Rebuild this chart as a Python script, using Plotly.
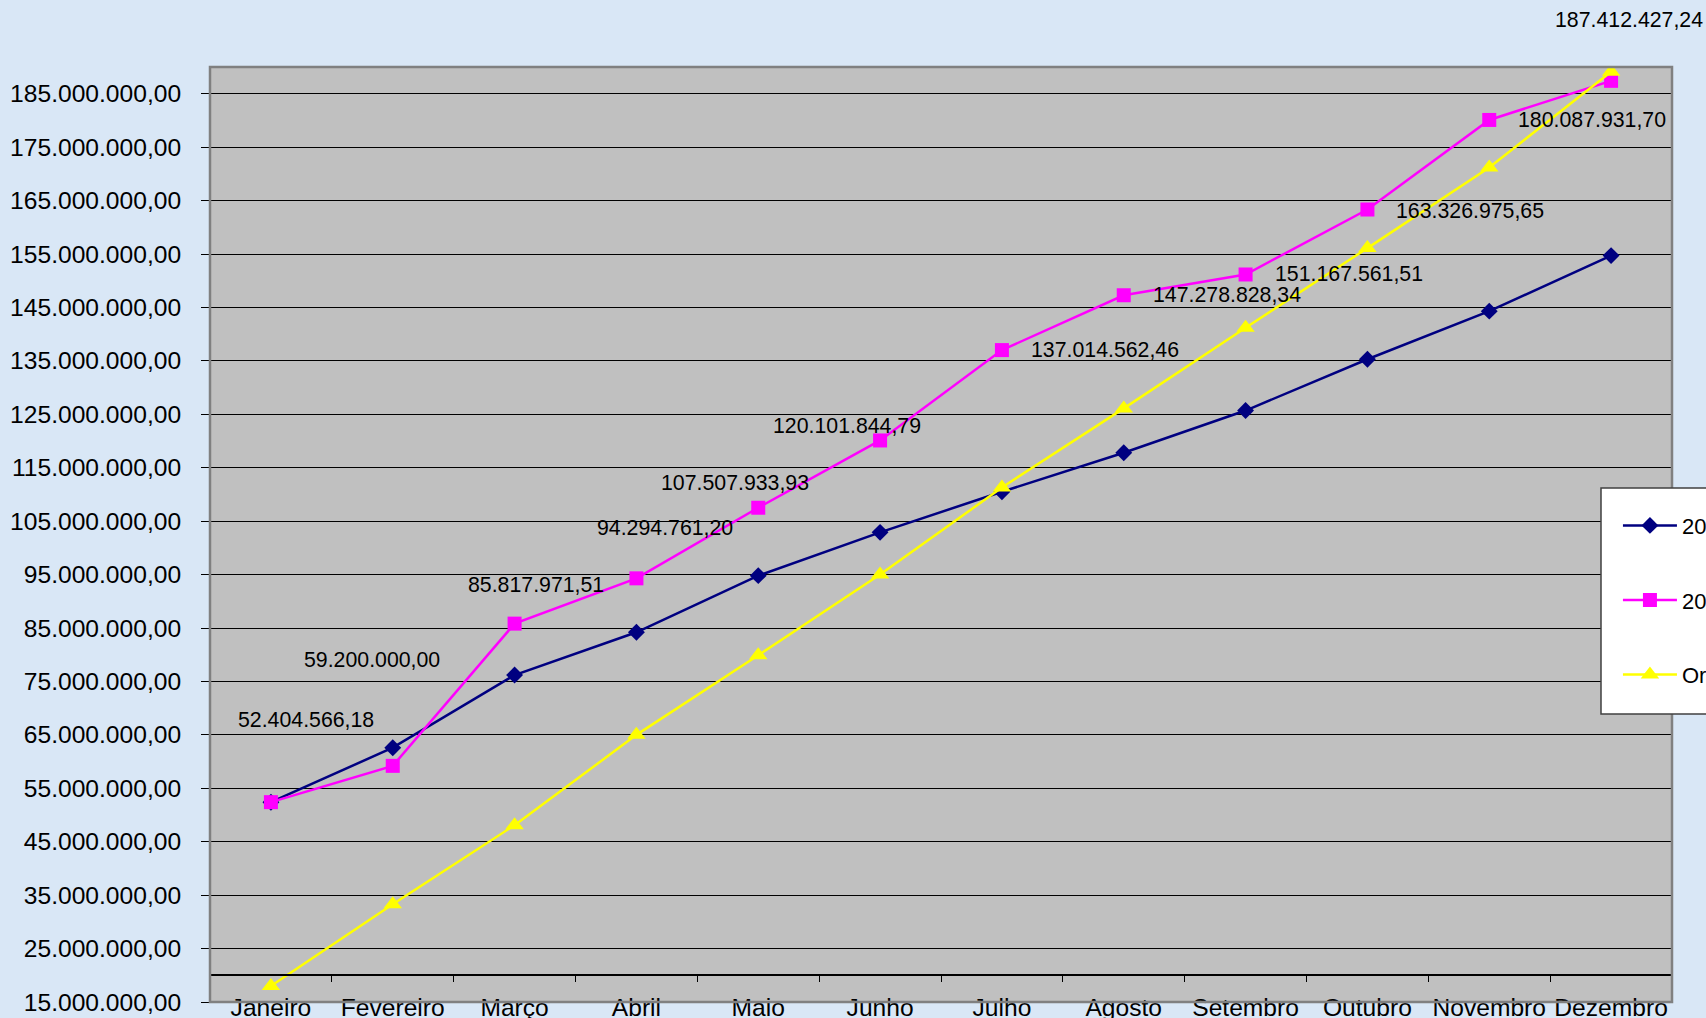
import plotly.graph_objects as go

months = ["Janeiro", "Fevereiro", "Março", "Abril", "Maio", "Junho", "Julho",
          "Agosto", "Setembro", "Outubro", "Novembro", "Dezembro"]

serie_a_name = "2009"
serie_a = [52.4e6, 62.6e6, 76.2e6, 84.2e6, 94.8e6, 102.9e6, 110.5e6,
           117.8e6, 125.7e6, 135.3e6, 144.3e6, 154.7e6]

serie_b_name = "2010"
serie_b = [52404566.18, 59200000.00, 85817971.51, 94294761.20, 107507933.93,
           120101844.79, 137014562.46, 147278828.34, 151167561.51,
           163326975.65, 180087931.70, 187412427.24]

serie_c_name = "Orçamento 2010"
serie_c = [18.0e6, 33.3e6, 48.1e6, 65.0e6, 79.9e6, 95.0e6, 111.3e6,
           126.1e6, 141.2e6, 156.1e6, 171.2e6, 189.1e6]

# label offsets in pixels (layout only)
label_dx = [35, -21, 21, 29, -23, -33, 103, 103, 103, 103, 103, 18]
label_dy = [82, 106, 39, 50, 25, 14, 0, 0, 0, -1, 0, 61]

Y_MIN, Y_MAX = 15e6, 190e6
X_CROSS = 20e6


def br(v):
    s = f"{v:,.2f}"
    return s.replace(",", "X").replace(".", ",").replace("X", ".")


FONT = "Liberation Sans, Arial, sans-serif"

fig = go.Figure()
fig.add_trace(go.Scatter(x=months, y=serie_a, name=serie_a_name, mode="lines+markers",
                         line=dict(color="#000080", width=2.5),
                         marker=dict(symbol="diamond", size=13, color="#000080"),
                         legendgroup="a"))
fig.add_trace(go.Scatter(x=months, y=serie_b, name=serie_b_name, mode="lines+markers",
                         line=dict(color="#FF00FF", width=2.5),
                         marker=dict(symbol="square", size=14, color="#FF00FF"),
                         legendgroup="b"))
fig.add_trace(go.Scatter(x=months, y=serie_c, name=serie_c_name, mode="lines+markers",
                         line=dict(color="#FFFF00", width=2.5),
                         marker=dict(symbol="triangle-up", size=16, color="#FFFF00"),
                         legendgroup="c"))

for m, v, dx, dy in zip(months, serie_b, label_dx, label_dy):
    fig.add_annotation(x=m, y=v, text=br(v), showarrow=False, xshift=dx, yshift=dy,
                       font=dict(family=FONT, size=21.3, color="black"))

ypos = (X_CROSS - Y_MIN) / (Y_MAX - Y_MIN)

fig.update_layout(
    width=1706, height=1018,
    margin=dict(l=210, r=34, t=67, b=16, autoexpand=False),
    paper_bgcolor="#d9e7f6",
    plot_bgcolor="#c0c0c0",
    separators=",.",
    font=dict(family=FONT, size=24.6, color="black"),
    showlegend=True,
    legend=dict(x=0.9514 + 17 / 1462, y=0.55 - 0.018, xanchor="left", yanchor="top",
                bgcolor="rgba(0,0,0,0)", borderwidth=0,
                font=dict(family=FONT, size=22, color="black"),
                traceorder="grouped", tracegroupgap=43, itemwidth=54),
    xaxis=dict(type="category", range=[-0.5, 11.5], anchor="free", position=ypos,
               showline=True, linecolor="black", linewidth=1.5,
               ticks="outside", tickson="boundaries", ticklen=6, tickcolor="black",
               showgrid=False, zeroline=False, ticklabelstandoff=10, tickangle=0,
               tickfont=dict(family=FONT, size=24.6, color="black")),
    yaxis=dict(range=[Y_MIN, Y_MAX], tick0=15e6, dtick=10e6, tickformat=",.2f",
               showgrid=True, gridcolor="black", gridwidth=1,
               showline=False, zeroline=False,
               ticks="outside", ticklen=8, tickcolor="black", ticklabelstandoff=15,
               tickfont=dict(family=FONT, size=24.6, color="black")),
    shapes=[
        dict(type="rect", xref="paper", yref="paper", x0=0, x1=1, y0=0, y1=1,
             line=dict(color="#808080", width=2.5), fillcolor="rgba(0,0,0,0)", layer="above"),
        dict(type="rect", xref="paper", yref="paper",
             x0=(1601 - 210) / 1462, x1=1.2,
             y0=(1002 - 714) / 935, y1=(1002 - 488) / 935,
             line=dict(color="#404040", width=1.5), fillcolor="white", layer="above"),
    ],
)

fig.write_html("out.html", config={"displayModeBar": False},
               post_script="document.body.style.margin='0';document.body.style.overflow='hidden';")
